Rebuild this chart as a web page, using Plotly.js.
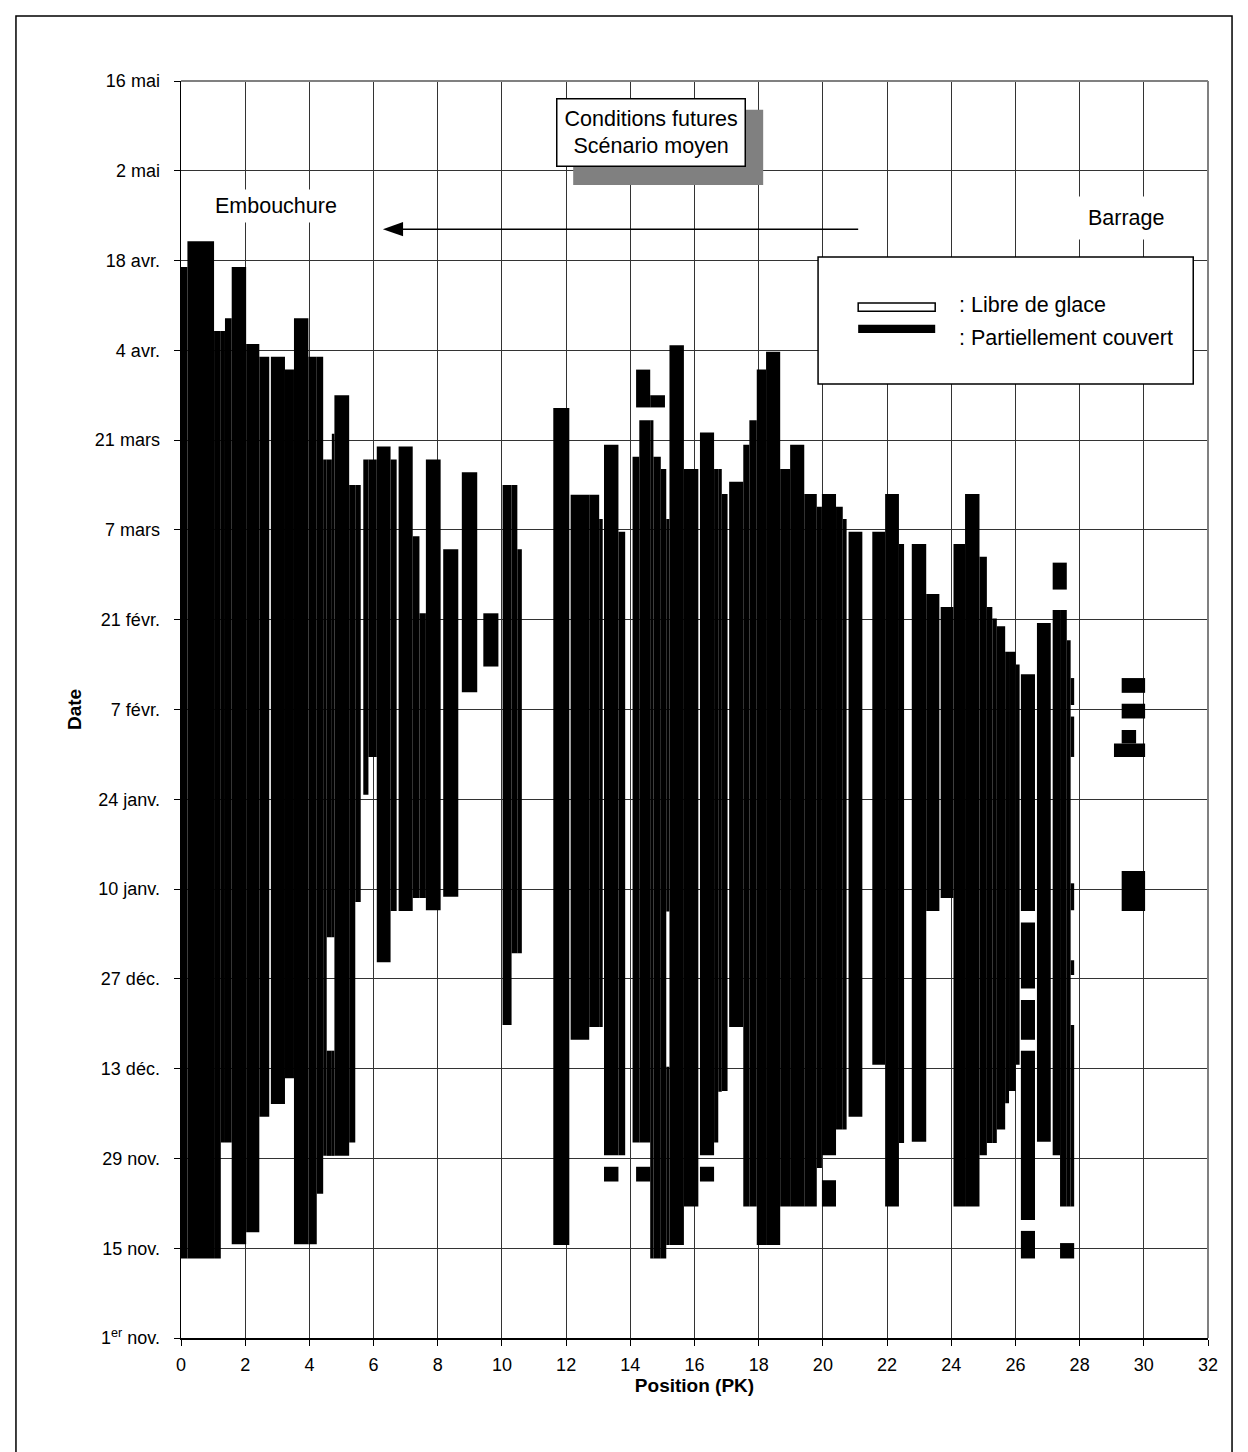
<!DOCTYPE html>
<html>
<head>
<meta charset="utf-8">
<script src="https://cdn.plot.ly/plotly-3.0.1.min.js"></script>
<style>
  html, body { margin: 0; padding: 0; background: #fff; }
  #chart { width: 1248px; height: 1452px; }
</style>
</head>
<body>
<div id="chart"></div>
<script>
// Ice-covered ("partiellement couvert") stretches: river position range (PK) and date range
// (dates expressed as days counted from 1 November)
const pkFrom = [
  -0.12, 0.20, 1.03, 1.24, 1.37, 1.58, 2.03, 2.44, 2.80, 3.24, 3.52, 3.97, 4.23, 4.43,
  4.54, 4.54, 4.70, 4.70, 4.78, 5.24, 5.43, 5.68, 5.84, 6.10, 6.53, 6.78, 7.22, 7.43,
  7.63, 8.17, 8.75, 9.42, 10.02, 10.30, 10.48,
  11.60, 12.14, 12.72, 13.03, 13.18, 13.63, 13.18, 14.07, 14.28, 14.62, 14.72, 14.95,
  14.18, 14.18, 14.62, 15.12, 15.12, 15.22, 15.67, 16.17, 16.17, 16.61, 16.74, 16.85,
  17.08, 17.52, 17.71, 17.94, 18.23, 18.67, 18.98, 19.42, 19.81, 19.97, 19.97, 20.41,
  20.62, 20.80, 21.54, 21.94, 22.37, 22.77, 23.22, 23.67, 24.07, 24.43, 24.88, 25.11,
  25.28, 25.42, 25.68, 25.80, 26.01, 26.17, 26.17, 26.17, 26.17, 26.17, 26.67, 27.16,
  27.39, 27.60, 27.72, 27.72, 27.72, 27.72, 27.72, 27.16, 27.39,
  29.31, 29.31, 29.31, 29.07, 29.31
];
const pkTo = [
  0.20, 1.03, 1.24, 1.37, 1.58, 2.03, 2.44, 2.75, 3.24, 3.52, 3.97, 4.23, 4.43, 4.54,
  4.70, 4.70, 4.78, 4.78, 5.24, 5.43, 5.60, 5.84, 6.10, 6.53, 6.72, 7.22, 7.43, 7.63,
  8.09, 8.64, 9.23, 9.89, 10.30, 10.48, 10.62,
  12.10, 12.72, 13.03, 13.14, 13.63, 13.84, 13.63, 14.28, 14.62, 14.72, 14.95, 15.12,
  14.62, 14.62, 15.08, 15.22, 15.22, 15.67, 16.12, 16.61, 16.61, 16.74, 16.85, 17.03,
  17.52, 17.71, 17.94, 18.23, 18.67, 18.98, 19.42, 19.81, 19.97, 20.41, 20.41, 20.62,
  20.74, 21.23, 21.94, 22.37, 22.53, 23.22, 23.63, 24.07, 24.43, 24.88, 25.11, 25.28,
  25.42, 25.68, 25.80, 26.01, 26.13, 26.61, 26.61, 26.61, 26.61, 26.61, 27.10, 27.39,
  27.60, 27.72, 27.83, 27.83, 27.83, 27.83, 27.83, 27.60, 27.83,
  30.04, 30.04, 29.76, 30.04, 30.04
];
const dayFrom = [
  12.4, 12.4, 12.4, 30.5, 30.5, 14.6, 16.5, 34.5, 36.5, 40.5, 14.6, 14.6, 22.5, 28.4,
  28.4, 62.5, 28.4, 62.5, 28.4, 30.5, 68, 84.7, 90.6, 58.6, 66.6, 66.6, 68.6, 68.6,
  66.7, 68.8, 100.7, 104.7, 48.8, 60, 60,
  14.5, 46.5, 48.5, 48.5, 28.5, 28.5, 24.4, 30.5, 30.5, 12.4, 12.4, 12.4,
  24.4, 145.1, 145.1, 14.5, 66.5, 14.5, 20.5, 28.5, 24.4, 30.5, 38.4, 38.5,
  48.5, 20.5, 20.5, 14.5, 14.5, 20.5, 20.5, 20.5, 26.5, 28.5, 20.5, 32.5,
  32.5, 34.5, 42.6, 20.5, 30.4, 30.6, 66.6, 68.6, 20.5, 20.5, 28.5, 30.4,
  30.4, 32.5, 36.6, 38.5, 42.6, 12.4, 18.4, 46.5, 54.5, 66.6, 30.6, 28.5,
  20.5, 20.5, 20.5, 56.6, 66.7, 90.6, 98.7, 116.7, 12.4,
  100.6, 96.6, 92.7, 90.6, 66.6
];
const dayTo = [
  167, 171, 157, 157, 159, 167, 155, 153, 153, 151, 159, 153, 153, 137,
  44.8, 137, 44.8, 141, 147, 133, 133, 137, 137, 139, 137, 139, 125, 113,
  137, 123, 135, 113, 133, 133, 123,
  145, 131.5, 131.5, 127.7, 139.3, 125.7, 26.7, 137.4, 143.1, 143.1, 137.4, 135.5,
  26.7, 151, 147, 42.3, 127.7, 154.8, 135.5, 141.2, 26.7, 135.5, 135.5, 131.6,
  133.5, 139.3, 143.1, 151, 153.8, 135.5, 139.3, 131.6, 129.6, 131.6, 24.6, 129.6,
  127.7, 125.7, 125.7, 131.6, 123.8, 123.8, 116, 114, 123.8, 131.6, 121.8, 114,
  112.2, 111, 107, 107, 105, 16.7, 44.8, 52.7, 64.8, 103.5, 111.5, 113.5,
  113.5, 108.8, 48.8, 58.9, 70.9, 96.9, 102.9, 120.9, 14.8,
  102.9, 98.9, 94.8, 92.7, 72.8
];

// Axis ticks
const pkTicks = [0, 2, 4, 6, 8, 10, 12, 14, 16, 18, 20, 22, 24, 26, 28, 30, 32];
const dateTickDays = [0, 14, 28, 42, 56, 70, 84, 98, 112, 126, 140, 154, 168, 182, 196];
const dateTickLabels = ['1<sup>er</sup> nov.', '15 nov.', '29 nov.', '13 déc.', '27 déc.',
  '10 janv.', '24 janv.', '7 févr.', '21 févr.', '7 mars', '21 mars', '4 avr.',
  '18 avr.', '2 mai', '16 mai'];

const FONT = '"Liberation Sans", Arial, sans-serif';
const ANN = 21.5;

const trace = {
  type: 'bar',
  x: pkFrom.map((a, i) => (a + pkTo[i]) / 2),
  width: pkFrom.map((a, i) => pkTo[i] - a),
  base: dayFrom,
  y: dayFrom.map((d, i) => dayTo[i] - d),
  marker: { color: '#000000', line: { width: 0 } },
  showlegend: false,
  hoverinfo: 'skip'
};

// arrow "Barrage -> Embouchure" (head + shaft), in axis units
const arrowY = 172.9, arrowTail = 21.1, arrowTip = 6.29, arrowHeadLen = 0.63, arrowHeadHalf = 1.1;

const layout = {
  width: 1248,
  height: 1452,
  margin: { l: 181, r: 40, t: 81, b: 114, pad: 0 },
  paper_bgcolor: '#ffffff',
  plot_bgcolor: '#ffffff',
  font: { family: FONT, color: '#000000', size: 18 },
  barmode: 'overlay',
  hovermode: false,
  xaxis: {
    range: [0, 32],
    tickvals: pkTicks,
    ticktext: pkTicks.map(String),
    showgrid: true, gridcolor: '#333333', gridwidth: 1,
    zeroline: false,
    showline: true, linecolor: '#000000', linewidth: 1.5,
    ticks: 'outside', ticklen: 6, tickcolor: '#000000',
    tickfont: { family: FONT, size: 18 },
    ticklabelstandoff: 4,
    title: { text: '<b>Position (PK)</b>', font: { family: FONT, size: 19 }, standoff: 1 }
  },
  yaxis: {
    range: [0, 196],
    tickvals: dateTickDays,
    ticktext: dateTickLabels,
    showgrid: true, gridcolor: '#333333', gridwidth: 1,
    zeroline: false,
    showline: true, linecolor: '#000000', linewidth: 1.5,
    ticks: 'outside', ticklen: 6, tickcolor: '#000000',
    tickfont: { family: FONT, size: 18 },
    ticklabelstandoff: 10,
    title: { text: '<b>Date</b>', font: { family: FONT, size: 19 }, standoff: 8 }
  },
  shapes: [
    // outer frame (bottom edge lies just below the picture)
    { type: 'rect', xref: 'paper', yref: 'paper', x0: -0.1607, x1: 1.0234, y0: -0.1, y1: 1.0517,
      line: { color: '#000000', width: 1.5 }, fillcolor: 'rgba(0,0,0,0)', layer: 'above' },
    // plot area border (top and right, grey)
    { type: 'line', xref: 'paper', yref: 'paper', x0: 0, x1: 1, y0: 1, y1: 1,
      line: { color: '#808080', width: 2 }, layer: 'above' },
    { type: 'line', xref: 'paper', yref: 'paper', x0: 1, x1: 1, y0: 0, y1: 1,
      line: { color: '#808080', width: 2 }, layer: 'above' },
    // shadow of the scenario box
    { type: 'rect', xref: 'x', yref: 'y', x0: 12.22, x1: 18.14, y0: 179.8, y1: 191.5,
      line: { width: 0 }, fillcolor: '#808080', layer: 'above' },
    // legend box
    { type: 'rect', xref: 'x', yref: 'y', x0: 19.85, x1: 31.54, y0: 148.76, y1: 168.56,
      line: { color: '#000000', width: 1.5 }, fillcolor: '#ffffff', layer: 'above' },
    // legend symbol: libre de glace
    { type: 'rect', xref: 'x', yref: 'y', x0: 21.10, x1: 23.50, y0: 160.1, y1: 161.4,
      line: { color: '#000000', width: 1.5 }, fillcolor: '#ffffff', layer: 'above' },
    // legend symbol: partiellement couvert
    { type: 'rect', xref: 'x', yref: 'y', x0: 21.10, x1: 23.50, y0: 156.7, y1: 158.0,
      line: { width: 0 }, fillcolor: '#000000', layer: 'above' },
    // arrow shaft
    { type: 'line', xref: 'x', yref: 'y', x0: arrowTip + arrowHeadLen * 0.9, x1: arrowTail, y0: arrowY, y1: arrowY,
      line: { color: '#000000', width: 1.5 }, layer: 'above' },
    // arrow head
    { type: 'path', xref: 'x', yref: 'y',
      path: 'M ' + arrowTip + ' ' + arrowY + ' L ' + (arrowTip + arrowHeadLen) + ' ' + (arrowY + arrowHeadHalf) +
            ' L ' + (arrowTip + arrowHeadLen) + ' ' + (arrowY - arrowHeadHalf) + ' Z',
      line: { width: 0 }, fillcolor: '#000000', layer: 'above' }
  ],
  annotations: [
    { x: 14.645, y: 188, xref: 'x', yref: 'y', showarrow: false,
      text: 'Conditions futures<br>Scénario moyen',
      font: { family: FONT, size: ANN, color: '#000' },
      bgcolor: '#ffffff', bordercolor: '#000000', borderwidth: 1.5, borderpad: 7 },
    { x: 2.96, y: 176.5, xref: 'x', yref: 'y', showarrow: false, text: 'Embouchure',
      font: { family: FONT, size: ANN, color: '#000' }, bgcolor: '#ffffff', borderpad: 4 },
    { x: 29.45, y: 174.6, xref: 'x', yref: 'y', showarrow: false, text: 'Barrage',
      font: { family: FONT, size: ANN, color: '#000' }, bgcolor: '#ffffff', borderpad: 9 },
    { x: 24.18, y: 161.1, xref: 'x', yref: 'y', xanchor: 'left', showarrow: false,
      text: ': Libre de glace', font: { family: FONT, size: ANN, color: '#000' } },
    { x: 24.18, y: 155.9, xref: 'x', yref: 'y', xanchor: 'left', showarrow: false,
      text: ': Partiellement couvert', font: { family: FONT, size: ANN, color: '#000' } }
  ]
};

Plotly.newPlot('chart', [trace], layout, { staticPlot: true, displayModeBar: false });
</script>
</body>
</html>
